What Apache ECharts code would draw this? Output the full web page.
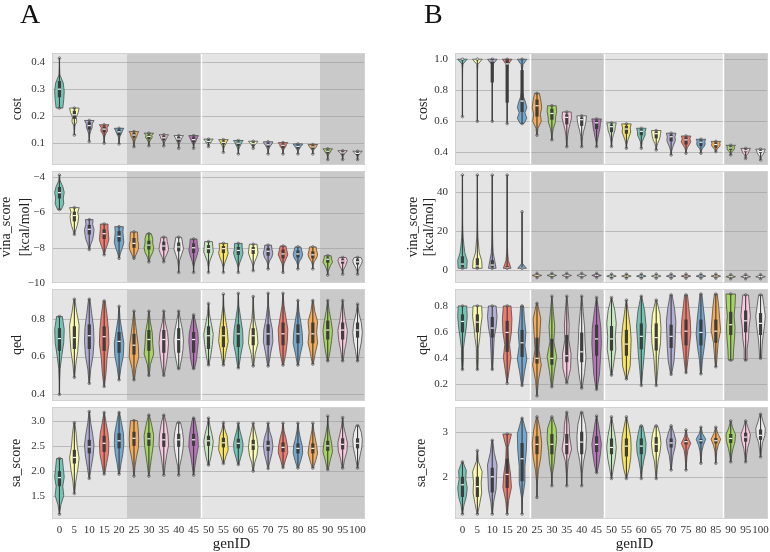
<!DOCTYPE html>
<html><head><meta charset="utf-8">
<script src="https://cdn.jsdelivr.net/npm/echarts@6/dist/echarts.min.js"></script>
<style>html,body{margin:0;padding:0;background:#fff}#c{width:770px;height:552px}</style>
</head><body><div id="c"></div>
<script>
// ---------- categories ----------
const genIDs = ['0','5','10','15','20','25','30','35','40','45','50','55','60','65','70','75','80','85','90','95','100'];
const shadeGroups = [0,0,0,0,0,1,1,1,1,1,0,0,0,0,0,0,0,0,1,1,1];
const sepA = [10];
const sepB = [5,10,18];
const palette = ['#72c5b4','#fbfbae','#b2aed4','#f07a6c','#74a8cf','#f6ac57','#a6d560','#f8c9de','#ececec','#b476b6','#c9e9c1','#f8e45e'];

// ---------- tick labels ----------
const ticks_costA = [0.1,0.2,0.3,0.4];
const ticks_vinaA = [-10,-8,-6,-4];
const ticks_qedA = [0.4,0.6,0.8];
const ticks_saA = [1.5,2.0,2.5,3.0];
const ticks_costB = [0.4,0.6,0.8,1.0];
const ticks_vinaB = [0,20,40];
const ticks_qedB = [0.2,0.4,0.6,0.8];
const ticks_saB = [2,3];

// ---------- violin data: stats rows [min, q1, median, q3, max]; shape = relative widths from min to max ----------
const costA_stats = [
 [0.23,0.27,0.30,0.33,0.415],[0.13,0.19,0.205,0.22,0.23],[0.106,0.15,0.165,0.178,0.184],[0.10,0.14,0.152,0.162,0.168],
 [0.097,0.13,0.142,0.15,0.155],[0.087,0.12,0.13,0.138,0.143],[0.09,0.115,0.125,0.132,0.137],[0.09,0.11,0.12,0.127,0.131],
 [0.081,0.105,0.115,0.123,0.128],[0.081,0.103,0.113,0.122,0.128],[0.087,0.10,0.106,0.111,0.115],[0.066,0.095,0.103,0.109,0.113],
 [0.06,0.09,0.10,0.106,0.11],[0.081,0.09,0.098,0.103,0.107],[0.06,0.085,0.094,0.10,0.105],[0.06,0.082,0.092,0.098,0.102],
 [0.06,0.08,0.088,0.094,0.097],[0.06,0.078,0.086,0.092,0.095],[0.039,0.062,0.07,0.075,0.079],[0.039,0.057,0.064,0.069,0.072],
 [0.039,0.055,0.062,0.067,0.07]];
const costA_shape = [
 [0.7,0.9,1.0,0.8,0.1,0.03,0.02],[0.02,0.04,0.1,0.5,0.4,0.8,1.0],[0.02,0.04,0.1,0.3,0.6,0.6,1.0],[0.02,0.05,0.1,0.3,0.7,0.6,1.0],
 [0.02,0.05,0.1,0.2,0.5,0.7,1.0],[0.03,0.06,0.15,0.3,0.6,0.7,1.0],[0.03,0.06,0.15,0.4,0.7,0.6,1.0],[0.03,0.06,0.15,0.35,0.6,0.7,1.0],
 [0.02,0.05,0.12,0.3,0.5,0.7,1.0],[0.02,0.05,0.15,0.4,0.6,0.8,1.0],[0.05,0.1,0.2,0.5,0.6,0.8,1.0],[0.02,0.04,0.1,0.25,0.5,0.7,1.0],
 [0.02,0.04,0.1,0.25,0.5,0.7,1.0],[0.05,0.1,0.2,0.4,0.6,0.8,1.0],[0.02,0.04,0.1,0.25,0.5,0.8,1.0],[0.02,0.04,0.1,0.3,0.6,0.7,1.0],
 [0.02,0.04,0.1,0.3,0.5,0.8,1.0],[0.02,0.04,0.1,0.3,0.6,0.8,1.0],[0.02,0.04,0.08,0.2,0.5,0.7,1.0],[0.02,0.04,0.08,0.2,0.4,0.7,1.0],
 [0.02,0.04,0.08,0.2,0.4,0.7,1.0]];

const vinaA_stats = [
 [-5.83,-5.2,-4.87,-4.55,-3.87],[-7.24,-6.5,-6.17,-5.95,-5.72],[-8.1,-7.25,-6.95,-6.7,-6.4],[-8.4,-7.5,-7.2,-6.95,-6.65],
 [-8.6,-7.65,-7.35,-7.05,-6.8],[-8.6,-8.0,-7.75,-7.45,-7.1],[-8.8,-8.1,-7.85,-7.6,-7.2],[-8.8,-8.15,-7.9,-7.65,-7.4],
 [-9.4,-8.2,-7.95,-7.7,-7.4],[-9.4,-8.3,-8.0,-7.75,-7.5],[-9.4,-8.3,-8.05,-7.85,-7.65],[-9.4,-8.3,-8.05,-7.9,-7.75],
 [-9.4,-8.4,-8.15,-7.95,-7.75],[-9.3,-8.35,-8.1,-7.95,-7.8],[-9.2,-8.45,-8.2,-8.0,-7.85],[-9.4,-8.6,-8.35,-8.1,-7.9],
 [-9.2,-8.55,-8.35,-8.15,-7.95],[-9.2,-8.6,-8.4,-8.2,-7.95],[-9.55,-8.85,-8.65,-8.55,-8.45],[-9.5,-8.9,-8.75,-8.65,-8.55],
 [-9.5,-8.95,-8.8,-8.65,-8.55]];
const vinaA_shape = [
 [0.4,0.9,0.8,1.0,0.7,0.15,0.02],[0.05,0.3,0.6,0.8,0.9,0.7,1.0],[0.05,0.3,0.7,0.9,1.0,0.7,0.8],[0.05,0.3,0.7,1.0,0.9,0.8,0.8],
 [0.05,0.3,0.7,1.0,0.9,0.8,0.9],[0.1,0.5,0.9,1.0,0.8,0.8,0.7],[0.05,0.3,0.8,1.0,0.8,0.8,0.5],[0.05,0.3,0.7,1.0,0.9,0.7,0.6],
 [0.02,0.05,0.2,0.6,1.0,0.8,0.6],[0.02,0.05,0.3,0.7,1.0,0.8,0.7],[0.02,0.05,0.2,0.6,1.0,0.9,0.8],[0.02,0.05,0.3,0.7,1.0,0.8,0.9],
 [0.02,0.05,0.3,0.7,1.0,0.8,0.8],[0.02,0.05,0.3,0.7,1.0,0.9,0.8],[0.02,0.05,0.3,0.8,1.0,0.8,0.7],[0.02,0.05,0.2,0.6,1.0,0.8,0.6],
 [0.02,0.05,0.3,0.8,1.0,0.8,0.6],[0.02,0.05,0.3,0.8,1.0,0.8,0.7],[0.02,0.1,0.3,0.6,1.0,0.8,0.7],[0.02,0.1,0.3,0.6,0.8,1.0,0.7],
 [0.02,0.1,0.3,0.6,0.9,1.0,0.7]];

const qedA_stats = [
 [0.40,0.63,0.695,0.75,0.812],[0.49,0.64,0.70,0.76,0.903],[0.458,0.64,0.71,0.77,0.903],[0.442,0.63,0.705,0.76,0.894],
 [0.477,0.62,0.68,0.73,0.865],[0.477,0.61,0.66,0.72,0.84],[0.50,0.63,0.69,0.74,0.84],[0.50,0.62,0.69,0.74,0.84],
 [0.536,0.62,0.69,0.75,0.84],[0.536,0.62,0.69,0.73,0.82],[0.555,0.64,0.71,0.76,0.88],[0.555,0.65,0.71,0.76,0.93],
 [0.54,0.65,0.72,0.77,0.934],[0.55,0.66,0.71,0.75,0.917],[0.55,0.66,0.72,0.77,0.934],[0.555,0.66,0.72,0.78,0.934],
 [0.555,0.67,0.72,0.77,0.896],[0.56,0.67,0.72,0.78,0.896],[0.577,0.69,0.74,0.79,0.896],[0.577,0.69,0.74,0.78,0.896],
 [0.577,0.70,0.74,0.78,0.877]];
const qedA_shape = [
 [0.02,0.05,0.15,0.5,0.9,1.0,0.6],[0.05,0.3,0.7,0.9,1.0,0.5,0.1],[0.05,0.3,0.8,1.0,0.9,0.5,0.15],[0.05,0.4,0.6,1.0,0.9,0.6,0.2],
 [0.05,0.4,0.9,1.0,0.6,0.2,0.05],[0.1,0.4,1.0,0.9,0.6,0.3,0.05],[0.1,0.3,1.0,0.8,0.7,0.3,0.05],[0.1,0.5,0.8,1.0,0.8,0.3,0.05],
 [0.2,0.6,0.9,1.0,0.8,0.4,0.05],[0.2,0.6,0.8,1.0,0.9,0.5,0.1],[0.1,0.5,0.8,1.0,0.6,0.2,0.05],[0.1,0.5,1.0,0.8,0.4,0.1,0.02],
 [0.1,0.5,1.0,0.9,0.5,0.1,0.02],[0.1,0.4,1.0,0.8,0.3,0.1,0.02],[0.1,0.5,1.0,0.9,0.4,0.1,0.02],[0.1,0.6,0.9,1.0,0.6,0.2,0.02],
 [0.1,0.5,1.0,0.9,0.6,0.2,0.05],[0.1,0.5,1.0,0.8,1.0,0.4,0.1],[0.1,0.5,0.8,1.0,0.7,0.3,0.05],[0.1,0.4,0.8,1.0,0.6,0.3,0.05],
 [0.1,0.4,0.8,1.0,0.8,0.3,0.05]];

const saA_stats = [
 [1.146,1.7,1.87,2.0,2.25],[1.556,2.15,2.27,2.42,2.96],[1.855,2.35,2.48,2.62,3.18],[1.94,2.38,2.55,2.7,3.16],
 [1.94,2.45,2.6,2.75,3.16],[1.9,2.5,2.65,2.78,3.0],[1.9,2.5,2.64,2.76,3.11],[1.92,2.48,2.62,2.75,3.11],
 [1.92,2.48,2.62,2.74,2.96],[1.92,2.5,2.62,2.74,3.05],[2.12,2.5,2.6,2.7,3.05],[2.15,2.47,2.56,2.66,2.96],
 [2.13,2.45,2.55,2.64,2.95],[2.0,2.42,2.52,2.62,2.95],[2.05,2.4,2.5,2.6,2.95],[2.07,2.38,2.47,2.57,2.95],
 [2.06,2.35,2.45,2.55,2.95],[2.06,2.35,2.45,2.55,2.95],[2.03,2.4,2.5,2.6,3.09],[2.06,2.43,2.53,2.65,3.06],
 [2.06,2.45,2.55,2.65,2.9]];
const saA_shape = [
 [0.02,0.3,0.9,0.7,1.0,0.8,0.6],[0.05,0.3,0.7,1.0,0.6,0.4,0.1],[0.05,0.4,0.8,1.0,0.7,0.3,0.05],[0.1,0.5,0.9,1.0,0.8,0.4,0.05],
 [0.1,0.4,0.8,1.0,0.9,0.5,0.1],[0.05,0.2,0.5,0.9,1.0,0.9,0.7],[0.05,0.3,0.6,0.9,1.0,0.6,0.1],[0.05,0.3,0.6,1.0,0.9,0.6,0.1],
 [0.05,0.2,0.6,0.9,1.0,0.8,0.4],[0.05,0.3,0.6,1.0,0.9,0.6,0.2],[0.1,0.5,0.8,1.0,0.7,0.3,0.05],[0.1,0.5,1.0,0.9,0.8,0.3,0.05],
 [0.1,0.5,0.9,1.0,0.7,0.3,0.05],[0.05,0.3,0.8,1.0,0.8,0.4,0.05],[0.05,0.4,0.8,1.0,0.8,0.3,0.05],[0.1,0.5,1.0,0.9,0.6,0.2,0.05],
 [0.1,0.6,1.0,0.9,0.5,0.2,0.05],[0.1,0.6,1.0,0.8,0.5,0.2,0.05],[0.1,0.5,1.0,0.8,0.4,0.1,0.02],[0.1,0.4,0.9,1.0,0.6,0.2,0.05],
 [0.05,0.3,0.6,0.9,1.0,0.8,0.3]];

const costB_stats = [
 [0.63,0.998,1.0,1.0,1.0],[0.60,0.998,1.0,1.0,1.0],[0.60,0.85,0.99,1.0,1.0],[0.585,0.72,0.97,1.0,1.0],
 [0.585,0.66,0.73,0.93,1.0],[0.51,0.63,0.70,0.74,0.78],[0.48,0.61,0.65,0.68,0.70],[0.436,0.58,0.625,0.645,0.66],
 [0.436,0.57,0.61,0.625,0.635],[0.436,0.55,0.59,0.605,0.615],[0.437,0.53,0.565,0.58,0.59],[0.426,0.52,0.55,0.57,0.583],
 [0.426,0.51,0.535,0.548,0.555],[0.415,0.49,0.52,0.533,0.54],[0.383,0.47,0.50,0.515,0.523],[0.394,0.45,0.48,0.497,0.505],
 [0.394,0.44,0.465,0.478,0.484],[0.404,0.43,0.45,0.463,0.47],[0.383,0.415,0.428,0.438,0.445],[0.36,0.40,0.41,0.418,0.425],
 [0.35,0.395,0.405,0.413,0.42]];
const costB_shape = [
 [0.02,0.02,0.02,0.02,0.02,0.02,0.02,0.02,0.02,0.03,0.04,0.12,1.0],
 [0.02,0.02,0.02,0.02,0.02,0.02,0.02,0.02,0.02,0.03,0.04,0.12,1.0],
 [0.02,0.02,0.02,0.02,0.02,0.02,0.02,0.02,0.03,0.04,0.06,0.15,1.0],
 [0.02,0.02,0.02,0.02,0.03,0.03,0.03,0.04,0.04,0.05,0.07,0.2,1.0],
 [0.4,1.0,0.6,1.0,0.7,0.3,0.1,0.06,0.06,0.06,0.08,0.2,1.0],
 [0.05,0.2,0.9,0.7,1.0,0.8,0.5],[0.05,0.1,0.3,0.7,0.8,1.0,0.9],[0.05,0.1,0.2,0.4,0.7,1.0,0.9],
 [0.05,0.1,0.2,0.4,0.7,0.9,1.0],[0.05,0.1,0.3,0.5,0.7,0.8,1.0],[0.05,0.1,0.2,0.4,0.7,0.8,1.0],[0.05,0.1,0.3,0.6,0.9,0.8,1.0],
 [0.05,0.1,0.2,0.5,0.8,0.8,1.0],[0.05,0.1,0.3,0.6,0.8,0.9,1.0],[0.05,0.1,0.3,0.6,0.9,0.8,1.0],[0.05,0.1,0.3,0.7,1.0,0.8,1.0],
 [0.05,0.1,0.3,0.7,0.9,0.8,1.0],[0.05,0.2,0.4,0.8,0.9,0.8,1.0],[0.05,0.1,0.3,0.6,0.8,0.7,1.0],[0.05,0.1,0.2,0.5,0.7,0.8,1.0],
 [0.05,0.1,0.2,0.5,0.7,0.8,1.0]];

const vinaB_stats = [
 [0.8,1.5,3,7,49],[0.8,1,2,6,49],[0.8,1.5,2.5,5,49],[0.8,1.0,1.2,2,49],[0.8,0.9,1.1,1.4,30],
 [-4.0,-3.1,-2.8,-2.5,-1.8],[-4.0,-3.1,-2.8,-2.5,-1.8],[-4.0,-3.1,-2.8,-2.5,-1.8],[-4.0,-3.1,-2.8,-2.5,-1.8],[-4.0,-3.1,-2.8,-2.5,-1.8],
 [-4.3,-3.5,-3.2,-2.9,-2.2],[-4.3,-3.5,-3.2,-2.9,-2.2],[-4.3,-3.5,-3.2,-2.9,-2.2],[-4.3,-3.5,-3.2,-2.9,-2.2],
 [-4.3,-3.5,-3.2,-2.9,-2.2],[-4.3,-3.5,-3.2,-2.9,-2.2],[-4.3,-3.5,-3.2,-2.9,-2.2],[-4.3,-3.5,-3.2,-2.9,-2.2],
 [-4.6,-3.8,-3.5,-3.2,-2.5],[-4.6,-3.8,-3.5,-3.2,-2.5],[-4.6,-3.8,-3.5,-3.2,-2.5]];
const vinaB_shape = [
 [0.9,1.0,0.5,0.3,0.15,0.08,0.05,0.04,0.04,0.03,0.03,0.02,0.02],
 [1.0,0.9,0.4,0.25,0.12,0.07,0.05,0.04,0.04,0.03,0.03,0.02,0.02],
 [0.8,0.5,0.2,0.12,0.08,0.06,0.05,0.04,0.04,0.03,0.03,0.02,0.02],
 [0.8,0.25,0.1,0.06,0.05,0.04,0.04,0.03,0.03,0.03,0.02,0.02,0.02],
 [0.9,0.1,0.05,0.04,0.03,0.03,0.03,0.02,0.02,0.02,0.02,0.02,0.02],
 [0.02,0.3,1.0,0.3,0.02],[0.02,0.3,1.0,0.3,0.02],[0.02,0.3,1.0,0.3,0.02],[0.02,0.3,1.0,0.3,0.02],[0.02,0.3,1.0,0.3,0.02],
 [0.02,0.3,1.0,0.3,0.02],[0.02,0.3,1.0,0.3,0.02],[0.02,0.3,1.0,0.3,0.02],[0.02,0.3,1.0,0.3,0.02],
 [0.02,0.3,1.0,0.3,0.02],[0.02,0.3,1.0,0.3,0.02],[0.02,0.3,1.0,0.3,0.02],[0.02,0.3,1.0,0.3,0.02],
 [0.02,0.3,1.0,0.3,0.02],[0.02,0.3,1.0,0.3,0.02],[0.02,0.3,1.0,0.3,0.02]];

const qedB_stats = [
 [0.314,0.60,0.685,0.74,0.805],[0.314,0.60,0.68,0.74,0.805],[0.314,0.56,0.634,0.72,0.805],[0.207,0.45,0.60,0.69,0.805],
 [0.19,0.41,0.52,0.62,0.805],[0.11,0.36,0.40,0.56,0.825],[0.18,0.35,0.40,0.55,0.88],[0.21,0.37,0.42,0.58,0.88],
 [0.17,0.37,0.45,0.60,0.88],[0.16,0.42,0.55,0.66,0.87],[0.27,0.46,0.55,0.65,0.87],[0.24,0.42,0.51,0.62,0.85],
 [0.19,0.47,0.57,0.67,0.88],[0.19,0.46,0.56,0.67,0.85],[0.276,0.48,0.57,0.66,0.89],[0.29,0.50,0.61,0.70,0.89],
 [0.28,0.50,0.60,0.70,0.897],[0.335,0.52,0.61,0.70,0.897],[0.386,0.58,0.66,0.76,0.897],[0.386,0.60,0.69,0.77,0.89],
 [0.40,0.58,0.67,0.75,0.89]];
const qedB_shape = [
 [0.1,0.2,0.2,0.5,0.8,1.0,0.9],[0.1,0.2,0.2,0.5,0.7,1.0,0.9],[0.1,0.2,0.3,0.4,0.8,1.0,0.8],[0.02,0.4,0.8,0.5,0.9,1.0,0.8],
 [0.1,0.5,1.0,0.6,0.8,0.5,0.3],[0.02,0.3,0.9,0.4,0.6,0.8,0.1],[0.1,0.5,1.0,0.4,0.6,0.3,0.02],[0.1,0.8,0.9,0.4,0.5,0.3,0.05],
 [0.1,0.6,0.9,0.7,0.6,0.3,0.05],[0.1,0.6,0.8,1.0,0.9,0.5,0.05],[0.1,0.5,0.9,0.8,1.0,0.7,0.05],[0.1,0.8,0.9,1.0,0.8,0.4,0.05],
 [0.05,0.3,0.6,0.8,1.0,0.7,0.1],[0.05,0.3,0.5,0.9,1.0,0.8,0.1],[0.1,0.6,0.8,0.9,1.0,0.7,0.2],[0.1,0.4,0.7,1.0,0.9,0.6,0.3],
 [0.1,0.3,0.7,1.0,0.8,0.5,0.2],[0.1,0.3,0.5,1.0,0.8,0.6,0.3],[0.5,0.6,0.8,0.9,0.7,0.9,1.0],[0.3,0.3,0.6,0.7,1.0,0.8,0.6],
 [0.2,0.3,0.5,0.8,1.0,0.7,0.4]];

const saB_stats = [
 [1.17,1.55,1.82,2.0,2.33],[1.17,1.55,1.78,2.0,2.58],[1.17,1.65,2.0,2.2,2.81],[1.17,1.75,2.05,2.4,2.95],
 [1.17,1.9,2.4,2.75,3.3],[1.54,2.5,2.72,2.9,3.33],[1.8,2.5,2.72,2.95,3.33],[1.8,2.5,2.72,2.95,3.43],
 [1.8,2.5,2.77,3.0,3.43],[2.09,2.55,2.72,2.9,3.35],[1.96,2.5,2.65,2.85,3.33],[1.96,2.45,2.68,2.85,3.33],
 [1.96,2.5,2.68,2.85,3.13],[1.96,2.55,2.72,2.88,3.13],[2.15,2.65,2.75,2.85,3.13],[2.15,2.72,2.78,2.82,3.04],
 [2.3,2.74,2.8,2.84,3.1],[2.3,2.74,2.8,2.86,3.1],[2.33,2.75,2.85,2.95,3.24],[2.33,2.78,2.88,2.98,3.24],
 [2.44,2.82,2.92,3.05,3.39]];
const saB_shape = [
 [0.05,0.3,0.8,1.0,0.7,0.8,0.1],[0.05,0.5,0.9,0.8,1.0,0.2,0.05],[0.05,0.3,0.8,0.9,1.0,0.4,0.1],[0.05,0.3,0.9,0.7,0.3,0.2,0.9],
 [0.02,0.1,0.6,0.6,0.9,1.0,0.1],[0.02,0.05,0.3,0.8,1.0,0.7,0.1],[0.02,0.1,0.5,0.7,1.0,0.9,0.1],[0.02,0.1,0.3,1.0,0.6,0.5,0.1],
 [0.02,0.1,0.4,0.9,1.0,0.8,0.2],[0.1,0.5,0.8,1.0,0.7,0.4,0.05],[0.05,0.4,0.8,1.0,0.8,0.4,0.05],[0.05,0.6,0.9,1.0,0.9,0.5,0.05],
 [0.05,0.2,0.5,0.9,1.0,0.7,0.3],[0.05,0.2,0.4,0.8,1.0,0.8,0.3],[0.05,0.2,0.4,0.8,1.0,0.6,0.1],[0.05,0.1,0.2,0.4,1.0,0.3,0.05],
 [0.05,0.1,0.2,0.5,1.0,0.3,0.05],[0.05,0.1,0.2,0.5,1.0,0.4,0.05],[0.05,0.2,0.5,0.9,1.0,0.4,0.05],[0.05,0.2,0.4,0.8,1.0,0.5,0.05],
 [0.05,0.2,0.4,0.9,1.0,0.5,0.1]];

// ---------- layout ----------
const FONT = 'Liberation Serif';
const rowTops = [53,171,289,407];
const rowH = 112;
const colLeft = [52,455];
const colW = 313;
const fmt1 = v => (v < 0 ? '\u2212' + Math.abs(v) : (Number.isInteger(v) ? String(v) : v.toFixed(1)));
const fmt1f = v => v.toFixed(1);

const panels = [
 {col:0,row:0,stats:costA_stats,shape:costA_shape,min:0.019,max:0.434,ticks:ticks_costA,fmt:fmt1f,name:'cost',gap:27,lh:16,sep:sepA},
 {col:0,row:1,stats:vinaA_stats,shape:vinaA_shape,min:-10,max:-3.64,ticks:ticks_vinaA,fmt:fmt1,name:'vina_score\n[kcal/mol]',gap:17,lh:19,sep:sepA},
 {col:0,row:2,stats:qedA_stats,shape:qedA_shape,min:0.365,max:0.957,ticks:ticks_qedA,fmt:fmt1f,name:'qed',gap:27,lh:16,sep:sepA},
 {col:0,row:3,stats:saA_stats,shape:saA_shape,min:1.05,max:3.27,ticks:ticks_saA,fmt:fmt1f,name:'sa_score',gap:28,lh:16,sep:sepA},
 {col:1,row:0,stats:costB_stats,shape:costB_shape,min:0.318,max:1.04,ticks:ticks_costB,fmt:fmt1f,name:'cost',gap:24,lh:16,sep:sepB},
 {col:1,row:1,stats:vinaB_stats,shape:vinaB_shape,min:-6.8,max:51.1,ticks:ticks_vinaB,fmt:fmt1,name:'vina_score\n[kcal/mol]',gap:18,lh:16,sep:sepB},
 {col:1,row:2,stats:qedB_stats,shape:qedB_shape,min:0.07,max:0.936,ticks:ticks_qedB,fmt:fmt1f,name:'qed',gap:24,lh:16,sep:sepB},
 {col:1,row:3,stats:saB_stats,shape:saB_shape,min:1.06,max:3.55,ticks:ticks_saB,fmt:fmt1,name:'sa_score',gap:26,lh:16,sep:sepB}
];

function bgRender(p) {
  return function (params, api) {
    const i = params.dataIndex;
    const cs = params.coordSys;
    const c = api.coord([i, p.ticks[0]])[0];
    const bw = api.size([1, 0])[0];
    const x0 = Math.round(c - bw / 2), x1 = Math.round(c + bw / 2);
    const ch = [{type:'rect', shape:{x:x0, y:cs.y, width:x1 - x0, height:cs.height},
                 style:{fill: shadeGroups[i] ? '#c9c9c9' : '#e4e4e4'}}];
    p.ticks.forEach(t => {
      const y = Math.round(api.coord([i, t])[1]) + 0.5;
      if (y > cs.y + 1 && y < cs.y + cs.height - 1)
        ch.push({type:'line', shape:{x1:x0, y1:y, x2:x1, y2:y}, style:{stroke: shadeGroups[i] ? '#aeaeae' : '#b9b9b9', lineWidth:1}});
    });
    if (p.sep.indexOf(i) >= 0)
      ch.push({type:'line', shape:{x1:x0 + 0.5, y1:cs.y, x2:x0 + 0.5, y2:cs.y + cs.height}, style:{stroke:'#ffffff', lineWidth:1.5}});
    const bc = '#d2d2d2';
    ch.push({type:'line', shape:{x1:x0, y1:cs.y + 0.5, x2:x1, y2:cs.y + 0.5}, style:{stroke:bc, lineWidth:1}});
    ch.push({type:'line', shape:{x1:x0, y1:cs.y + cs.height - 0.5, x2:x1, y2:cs.y + cs.height - 0.5}, style:{stroke:bc, lineWidth:1}});
    if (i === 0) ch.push({type:'line', shape:{x1:x0 + 0.5, y1:cs.y, x2:x0 + 0.5, y2:cs.y + cs.height}, style:{stroke:bc, lineWidth:1}});
    if (i === genIDs.length - 1) ch.push({type:'line', shape:{x1:x1 - 0.5, y1:cs.y, x2:x1 - 0.5, y2:cs.y + cs.height}, style:{stroke:bc, lineWidth:1}});
    return {type:'group', children:ch};
  };
}

function violinRender(p) {
  return function (params, api) {
    const i = params.dataIndex;
    const s = p.stats[i], w = p.shape[i];
    const cx = api.coord([i, s[2]])[0];
    const hw = api.size([1, 0])[0] * 0.32;
    const n = w.length;
    const right = [], left = [];
    for (let k = 0; k < n; k++) {
      const v = s[0] + (s[4] - s[0]) * k / (n - 1);
      const y = api.coord([i, v])[1];
      right.push([cx + w[k] * hw, y]);
      left.unshift([cx - w[k] * hw, y]);
    }
    const yMin = api.coord([i, s[0]])[1], yQ1 = api.coord([i, s[1]])[1], yMed = api.coord([i, s[2]])[1];
    const yQ3 = api.coord([i, s[3]])[1], yMax = api.coord([i, s[4]])[1];
    const dark = '#3d3d3d';
    return {type:'group', children:[
      {type:'polygon', shape:{points: right.concat(left)}, style:{fill: palette[i % palette.length], stroke:'#4d4d4d', lineWidth:0.8}},
      {type:'line', shape:{x1:cx, y1:yMin, x2:cx, y2:yMax}, style:{stroke:dark, lineWidth:1.1}},
      {type:'rect', shape:{x:cx - 1.6, y:yQ3, width:3.2, height:Math.max(yQ1 - yQ3, 1)}, style:{fill:dark}},
      {type:'line', shape:{x1:cx - 1.6, y1:yMed, x2:cx + 1.6, y2:yMed}, style:{stroke:'#f4f4f4', lineWidth:1.2}},
      {type:'circle', shape:{cx:cx, cy:yMin, r:1.3}, style:{fill:'none', stroke:'#555', lineWidth:0.7}},
      {type:'circle', shape:{cx:cx, cy:yMax, r:1.3}, style:{fill:'none', stroke:'#555', lineWidth:0.7}}
    ]};
  };
}

const grids = [], xAxes = [], yAxes = [], series = [];
panels.forEach((p, k) => {
  grids.push({left: colLeft[p.col], top: rowTops[p.row], width: colW, height: rowH, show:false,
              containLabel:false, outerBoundsMode:'none'});
  const bottom = p.row === 3;
  xAxes.push({gridIndex:k, type:'category', data:genIDs, boundaryGap:true,
    axisLine:{show:false}, axisTick:{show:false}, splitLine:{show:false},
    axisLabel:{show:bottom, color:'#333', fontFamily:FONT, fontSize:11, margin:6, interval:0},
    name: bottom ? 'genID' : '', nameLocation:'middle', nameGap:18, nameMoveOverlap:false,
    nameTextStyle:{fontFamily:FONT, fontSize:15, color:'#222', padding:[0,0,0,46]}});
  yAxes.push({gridIndex:k, type:'value', min:p.min, max:p.max,
    axisLine:{show:false}, axisTick:{show:false}, splitLine:{show:false},
    axisLabel:{customValues:p.ticks, formatter:p.fmt, color:'#333', fontFamily:FONT, fontSize:11, margin:7},
    name:p.name, nameLocation:'middle', nameGap:p.gap, nameRotate:90, nameMoveOverlap:false,
    nameTextStyle:{fontFamily:FONT, fontSize:14, color:'#222', lineHeight:p.lh}});
  series.push({type:'custom', xAxisIndex:k, yAxisIndex:k, z:1, silent:true,
    renderItem: bgRender(p), data: genIDs.map((g, i) => [i, p.ticks[0]])});
  series.push({type:'custom', xAxisIndex:k, yAxisIndex:k, z:3, silent:true,
    renderItem: violinRender(p), data: p.stats.map((s, i) => [i, s[2]])});
});

const chart = echarts.init(document.getElementById('c'), null, {renderer:'canvas'});
chart.setOption({
  animation:false,
  backgroundColor:'#ffffff',
  grid:grids, xAxis:xAxes, yAxis:yAxes, series:series,
  graphic:[
    {type:'text', left:20, top:2, style:{text:'A', font:'28px "Liberation Serif"', fill:'#111'}},
    {type:'text', left:424, top:2, style:{text:'B', font:'28px "Liberation Serif"', fill:'#111'}}
  ]
});
</script></body></html>
